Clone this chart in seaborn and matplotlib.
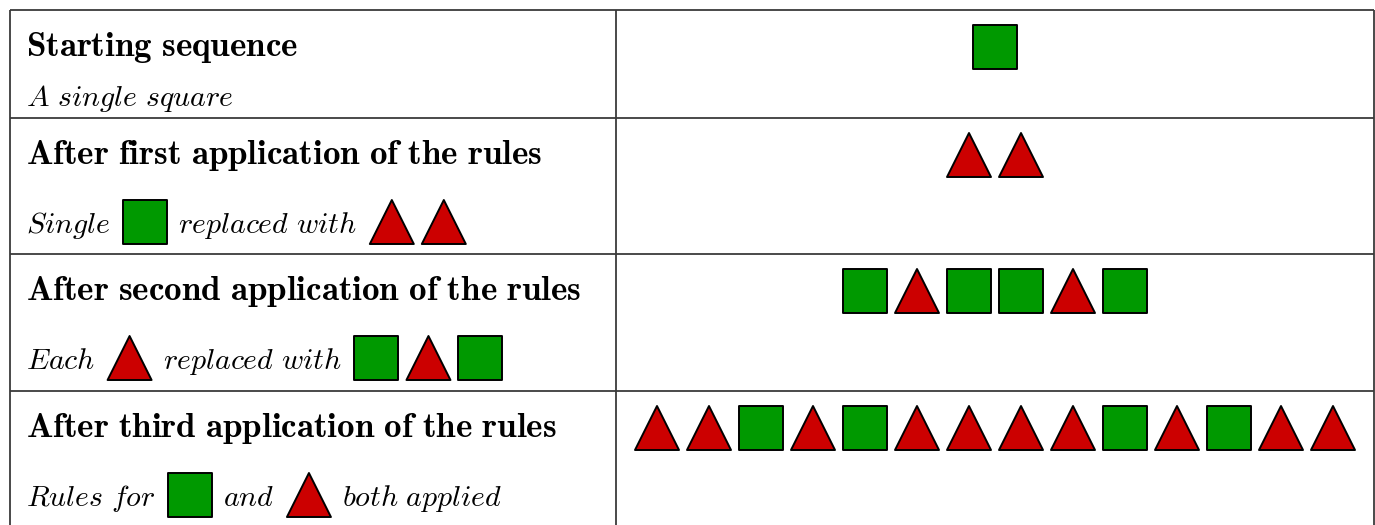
import matplotlib
matplotlib.use("Agg")
import matplotlib.pyplot as plt
import seaborn as sns
import pandas as pd

# sequences: S = green square, T = red triangle
start_seq = ["S"]
seq_1 = ["T", "T"]
seq_2 = ["S", "T", "S", "S", "T", "S"]
seq_3 = ["T", "T", "S", "T", "S", "T", "T", "T", "T", "S", "T", "S", "T", "T"]
sequences = [start_seq, seq_1, seq_2, seq_3]

titles = [
    "Starting sequence",
    "After first application of the rules",
    "After second application of the rules",
    "After third application of the rules",
]
# captions: plain strings are italic text, "@S"/"@T" tokens are icons
captions = [
    ["A single square"],
    ["Single", "@S", "replaced with", "@T", "@T"],
    ["Each", "@T", "replaced with", "@S", "@T", "@S"],
    ["Rules for", "@S", "and", "@T", "both applied"],
]

shape_colors = {"S": "#009900", "T": "#cc0000"}
shape_markers = {"S": "s", "T": "^"}

# layout (pixels)
W, H = 1375, 525
left, right, split = 10, 1374, 616
row_tops = [10, 118, 254, 391]
pitch = 52
icon = 45

sns.set_theme(style="white")
plt.rcParams["mathtext.fontset"] = "cm"

fig = plt.figure(figsize=(W / 100, H / 100), dpi=100)
ax = fig.add_axes([0, 0, 1, 1])
ax.set_xlim(0, W)
ax.set_ylim(H, 0)
ax.axis("off")

# table grid
lc, lw = "#3a3a3a", 1.3
ax.hlines(row_tops, left, right, color=lc, lw=lw)
ax.vlines([left, split, right], row_tops[0], H, color=lc, lw=lw)

fig.canvas.draw()
renderer = fig.canvas.get_renderer()
inv = ax.transData.inverted()

rows = []
mid = (split + right) / 2
for r, seq in enumerate(sequences):
    top = row_tops[r]
    n = len(seq)
    for i, s in enumerate(seq):
        rows.append({"x": mid + (i - (n - 1) / 2) * pitch, "y": top + 37, "shape": s})

    ax.text(26, top + 46, r"$\mathbf{" + titles[r].replace(" ", r"\ ") + "}$",
            fontsize=25.2, va="baseline", ha="left", color="black")

    base = top + (96 if r == 0 else 115)
    x = 26
    prev_icon = None
    for tok in captions[r]:
        if tok.startswith("@"):
            gap = 12 if prev_icon is False else (7 if prev_icon else 0)
            x += gap
            rows.append({"x": x + icon / 2, "y": base - 11, "shape": tok[1:]})
            x += icon
            prev_icon = True
        else:
            if prev_icon:
                x += 11
            t = ax.text(x, base, r"$\mathit{" + tok.replace(" ", r"\ ") + "}$",
                        fontsize=21.5, va="baseline", ha="left", color="black")
            bb = t.get_window_extent(renderer=renderer)
            x = inv.transform((bb.x1, bb.y0))[0]
            prev_icon = False

df = pd.DataFrame(rows)
side_pt = (icon - 1.0) * 72 / 100
sns.scatterplot(data=df, x="x", y="y", hue="shape", style="shape",
                palette=shape_colors, markers=shape_markers, s=side_pt ** 2,
                edgecolor="black", linewidth=1.4, legend=False, ax=ax, zorder=3)
ax.set_xlim(0, W)
ax.set_ylim(H, 0)
ax.axis("off")

fig.savefig("out.png", dpi=100)
